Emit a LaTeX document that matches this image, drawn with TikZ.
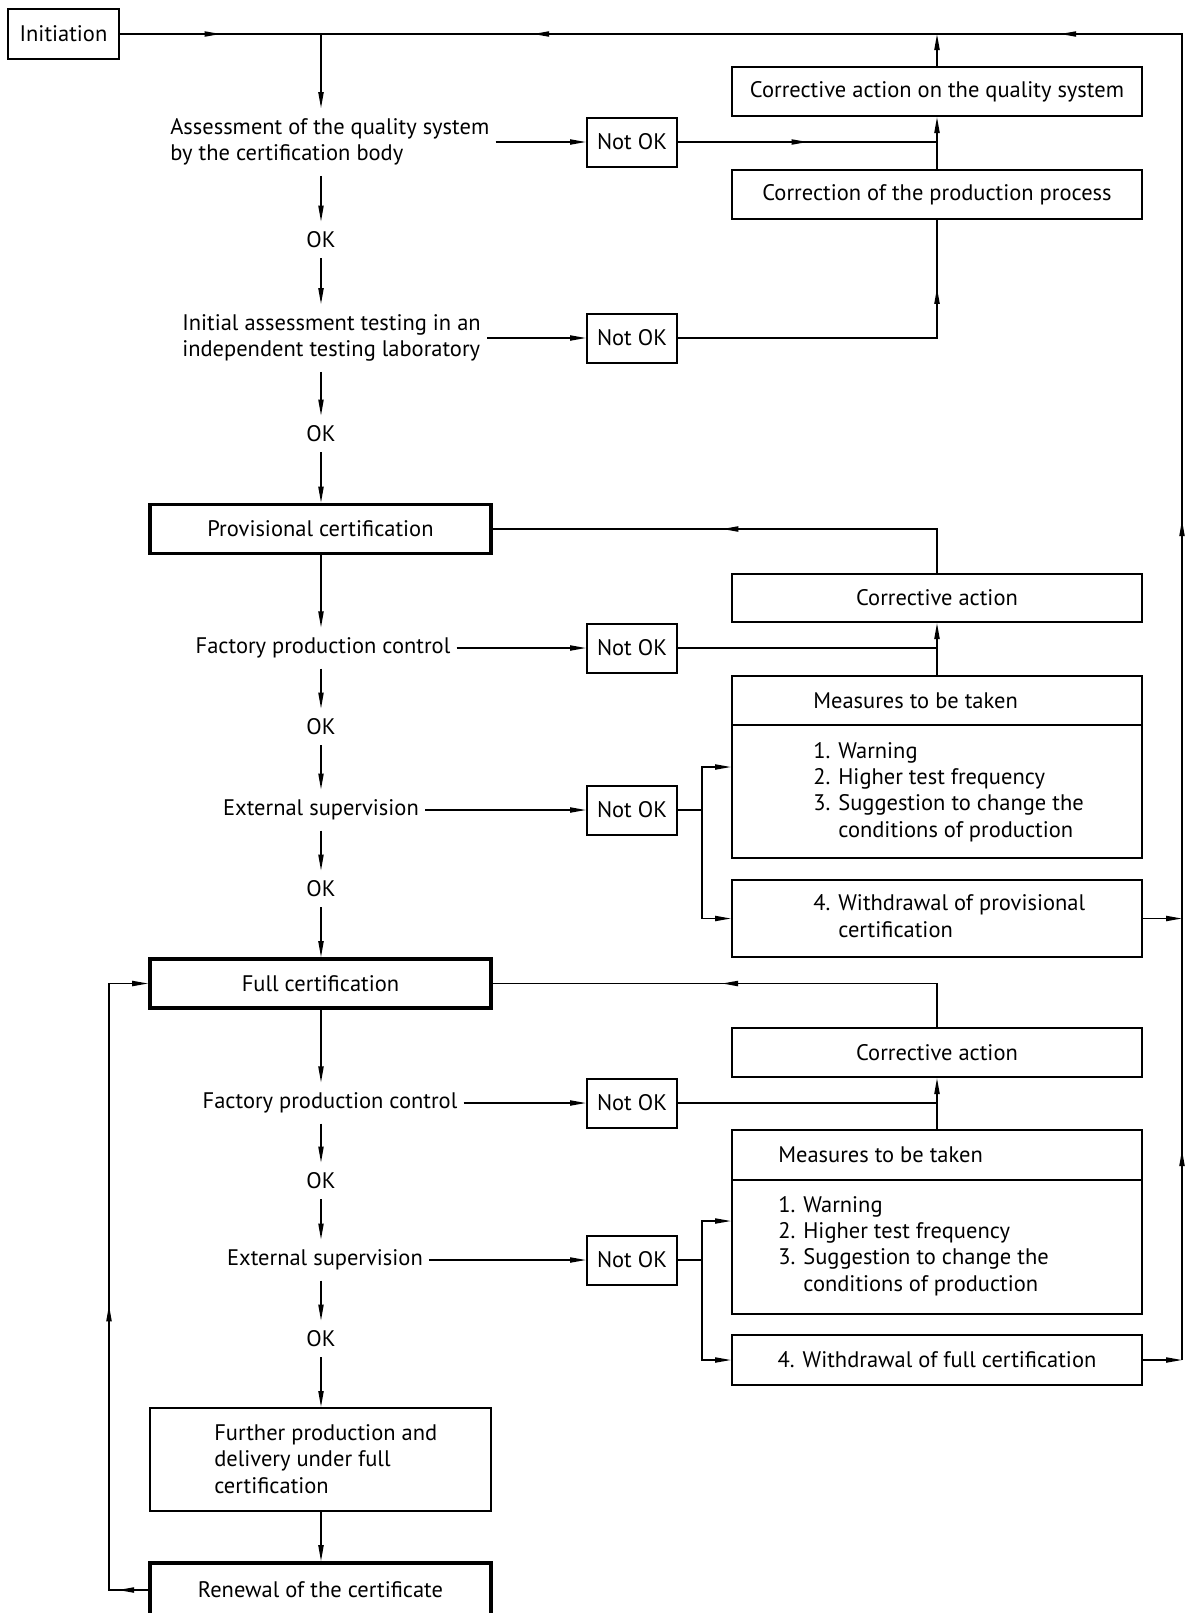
\documentclass[tikz,border=0pt]{standalone}
\usepackage{fontspec}
\setmainfont{PT Sans}
\usetikzlibrary{arrows.meta,decorations.markings}
\tikzset{
  >={Triangle[length=4mm,width=1.3mm]},
  line/.style={line width=0.35mm},
  flow/.style={->,line width=0.35mm},
  midtip/.style={postaction={decorate,decoration={markings,
    mark=at position #1 with {\arrow{Triangle[length=4mm,width=1.3mm]}}}}},
  box/.style={draw,line width=0.5mm,minimum width=102.5mm,minimum height=12.25mm,inner sep=0pt},
  cert/.style={draw,line width=0.9mm,minimum width=85.25mm,minimum height=12.25mm,inner sep=0pt},
  notok/.style={draw,line width=0.5mm,minimum width=22.5mm,minimum height=12.25mm,inner sep=0pt},
  stage/.style={inner xsep=1.5mm,inner ysep=2.5mm,align=left},
  list/.style={anchor=west,align=left,inner sep=0pt},
}
\begin{document}
\begin{tikzpicture}[x=0.25mm,y=-0.25mm,font=\fontsize{16pt}{18.8pt}\selectfont]
\useasboundingbox (0,0) rectangle (1185,1613);
% main column
\node[notok,minimum width=27.75mm,minimum height=12.5mm] (init) at (63.5,34) {Initiation};
\coordinate (top) at (321,34);
\coordinate (tr) at (1182,34);
\coordinate (back) at (109,983.5);
\node[stage,anchor=west] (assess) at (164,142) {Assessment of the quality system\\by the certification body};
\node[stage] (ok1) at (321,240) {OK};
\node[stage,anchor=west] (initial) at (176,338) {Initial assessment testing in an\\independent testing laboratory};
\node[stage] (ok2) at (321,434) {OK};
\node[cert] (prov) at (320.5,529) {Provisional certification};
\node[stage] (fpc1) at (323,648) {Factory production control};
\node[stage] (ok3) at (321,727) {OK};
\node[stage] (ext1) at (321,810) {External supervision};
\node[stage] (ok4) at (321,889) {OK};
\node[cert] (full) at (320.5,983.5) {Full certification};
\node[stage] (fpc2) at (330,1103) {Factory production control};
\node[stage] (ok5) at (321,1181) {OK};
\node[stage] (ext2) at (325,1260) {External supervision};
\node[stage] (ok6) at (321,1339) {OK};
\node[box,minimum width=85.25mm,minimum height=25.75mm] (further) at (320.5,1459.5) {};
\node[list] at (214,1459) {Further production and\\delivery under full\\certification};
\node[cert,minimum height=13.5mm] (renew) at (320.5,1590) {Renewal of the certificate};
\foreach \n/\y in {1/142,2/338,3/648,4/810,5/1103,6/1260}
  \node[notok] (nok\n) at (632,\y) {Not OK};
% right column
\node[box] (caqs) at (937,91.5) {Corrective action on the quality system};
\node[box] (cpp) at (937,194.5) {Correction of the production process};
\node[box,minimum height=12mm] (ca1) at (937,598) {Corrective action};
\node[box] (meas1h) at (937,700.5) {};
\node[box,minimum height=33.25mm] (meas1b) at (937,791.5) {};
\node[list] at (813,700.5) {Measures to be taken};
\node[list] at (813,792) {1. Warning\\2. Higher test frequency\\3. Suggestion to change the\\\hphantom{3. }conditions of production};
\node[box,minimum height=19.25mm] (wd1) at (937,918.5) {};
\node[list] at (813,916) {4. Withdrawal of provisional\\\hphantom{4. }certification};
\node[box] (ca2) at (937,1052.5) {Corrective action};
\node[box,minimum height=12.5mm] (meas2h) at (937,1155) {};
\node[box,minimum height=33.5mm] (meas2b) at (937,1247) {};
\node[list] at (778,1155) {Measures to be taken};
\node[list] at (778,1246) {1. Warning\\2. Higher test frequency\\3. Suggestion to change the\\\hphantom{3. }conditions of production};
\node[box,minimum height=12.5mm] (wd2) at (937,1360) {4. Withdrawal of full certification};
% flow down the column
\draw[line,midtip=0.5] (init.east) -- (top);
\draw[flow] (top) -- (assess.north -| top);
\foreach \a/\b in {assess/ok1,ok1/initial,initial/ok2,ok2/prov,prov/fpc1,fpc1/ok3,ok3/ext1,ext1/ok4,
  ok4/full,full/fpc2,fpc2/ok5,ok5/ext2,ext2/ok6,ok6/further,further/renew}
  \draw[flow] (\a.south -| top) -- (\b.north -| top);
\foreach \a/\b in {assess/nok1,initial/nok2,fpc1/nok3,ext1/nok4,fpc2/nok5,ext2/nok6}
  \draw[flow] (\a.east) -- (\a.east -| \b.west);
% quality system
\draw[line,midtip=0.5] (nok1.east) -- (nok1.east -| caqs.south);
\draw[flow] (cpp.north) -- (caqs.south);
\draw[line,midtip=0.82] (nok2.east) -- (nok2.east -| cpp.south) -- (cpp.south);
\draw[flow] (caqs.north) -- (caqs.north |- top);
% provisional
\draw[line,midtip=0.53] (ca1.north) -- (ca1.north |- prov.east) -- (prov.east);
\draw[line] (nok3.east) -- (nok3.east -| ca1.south);
\draw[flow] (meas1h.north) -- (ca1.south);
\coordinate (br1) at (702,810);
\draw[line] (nok4.east) -- (br1);
\draw[flow] (br1) |- (meas1b.west |- 0,767);
\draw[flow] (br1) |- (wd1.west);
\draw[flow] (wd1.east) -- (wd1.east -| tr);
% full
\draw[line,midtip=0.53] (ca2.north) -- (ca2.north |- full.east) -- (full.east);
\draw[line] (nok5.east) -- (nok5.east -| ca2.south);
\draw[flow] (meas2h.north) -- (ca2.south);
\coordinate (br2) at (702,1260);
\draw[line] (nok6.east) -- (br2);
\draw[flow] (br2) |- (meas2b.west |- 0,1221);
\draw[flow] (br2) |- (wd2.west);
\draw[flow] (wd2.east) -- (wd2.east -| tr);
% back to the start
\draw[line,midtip=0.096,midtip=0.384,midtip=0.662,midtip=0.903] (wd2.east -| tr) -- (tr) -- (top);
\draw[flow,midtip=0.044,midtip=0.473] (renew.west) -- (renew.west -| back) -- (back) -- (full.west);
\end{tikzpicture}
\end{document}
